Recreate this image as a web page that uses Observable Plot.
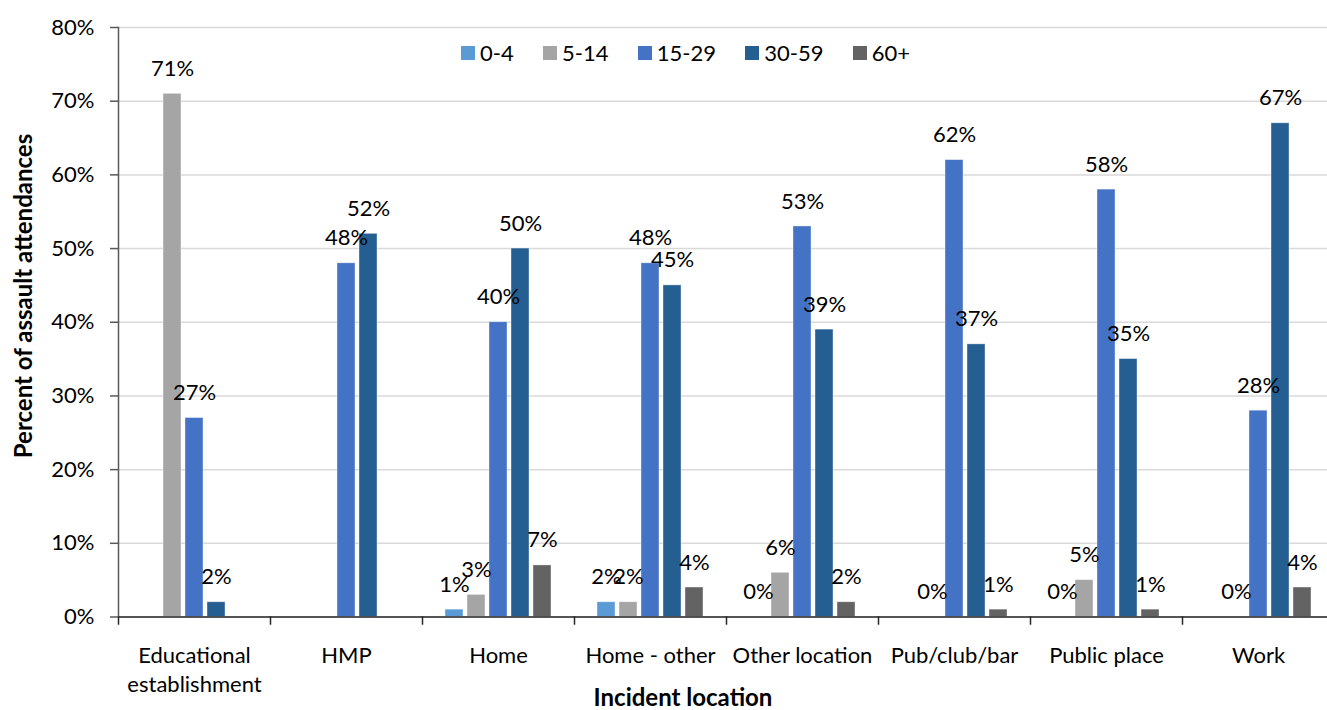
<!DOCTYPE html>
<html>
<head>
<meta charset="utf-8">
<script src="https://cdn.jsdelivr.net/npm/d3@7"></script>
<script src="https://cdn.jsdelivr.net/npm/@observablehq/plot@0.6"></script>
<style>
  html, body { margin: 0; padding: 0; background: #fff; }
  #wrap { position: relative; width: 1327px; height: 710px; font-family: Lato, "Open Sans", sans-serif; color: #000; overflow: hidden; }
  #legend { position: absolute; left: 461px; top: 42px; display: flex; align-items: center; font-size: 22px; line-height: 22px; }
  #legend .item { display: flex; align-items: center; margin-right: 29.3px; }
  #legend .sw { width: 14px; height: 14px; margin-right: 5px; display: inline-block; }
  .ytitle { position: absolute; left: 23px; top: 296px; transform: translate(-50%, -50%) rotate(-90deg); font-weight: bold; font-size: 24px; line-height: 1; white-space: nowrap; }
  .xtitle { position: absolute; left: 683px; top: 697px; transform: translate(-50%, -50%); font-weight: bold; font-size: 24px; line-height: 1; white-space: nowrap; }
</style>
</head>
<body>
<div id="wrap"></div>
<script>
// ---- data ----
const locations = ["Educational establishment", "HMP", "Home", "Home - other", "Other location", "Pub/club/bar", "Public place", "Work"];
const locationLabels = ["Educational\nestablishment", "HMP", "Home", "Home - other", "Other location", "Pub/club/bar", "Public place", "Work"];
const ages = ["0-4", "5-14", "15-29", "30-59", "60+"];
const ageColors = ["#5B9BD5", "#A5A5A5", "#4472C4", "#255E91", "#636363"];
const age0_4   = [null, null, 1, 2, 0, null, 0, null];
const age5_14  = [71, null, 3, 2, 6, 0, 5, 0];
const age15_29 = [27, 48, 40, 48, 53, 62, 58, 28];
const age30_59 = [2, 52, 50, 45, 39, 37, 35, 67];
const age60p   = [null, null, 7, 4, 2, 1, 1, 4];
const yTicks = [0, 10, 20, 30, 40, 50, 60, 70, 80];

const series = [age0_4, age5_14, age15_29, age30_59, age60p];
const data = [];
locations.forEach((loc, i) => {
  ages.forEach((age, j) => {
    const v = series[j][i];
    if (v !== null) data.push({location: loc, age, value: v});
  });
});

const W = 1327, H = 710, mT = 27, mB = 93.5, mL = 117, mR = -7.6;

const chart = Plot.plot({
  width: W,
  height: H,
  marginTop: mT,
  marginBottom: mB,
  marginLeft: mL,
  marginRight: mR,
  style: {fontFamily: "Lato, 'Open Sans', sans-serif", fontSize: "22px", color: "#000", background: "transparent", overflow: "visible"},
  fx: {domain: locations, padding: 0, axis: null},
  x: {domain: ages, paddingInner: 0.204, paddingOuter: 0.91, axis: null},
  y: {domain: [0, 80], axis: null},
  color: {domain: ages, range: ageColors},
  marks: [
    Plot.gridY({ticks: yTicks, stroke: "#d9d9d9", strokeOpacity: 1, strokeWidth: 1.5}),
    Plot.barY(data, {fx: "location", x: "age", y: "value", fill: "age", stroke: "white", strokeOpacity: 0.5, strokeWidth: 0.75}),
    Plot.text(data, {fx: "location", x: "age", y: "value", text: d => d.value + "%", dy: -25, fontSize: 22, fill: "#000"}),
    Plot.ruleY([0], {stroke: "#262626", strokeWidth: 1.5}),
    Plot.frame({anchor: "left", facetAnchor: "left", stroke: "#595959", strokeWidth: 1.5}),
    Plot.frame({anchor: "left", stroke: "#262626", strokeWidth: 1.5, insetTop: H - mT - mB, insetBottom: -7}),
    Plot.axisY({ticks: yTicks, tickSize: 8, tickPadding: 16, tickFormat: d => d + "%", fontSize: 22, stroke: "#595959", strokeWidth: 1.5, fill: "#000", label: null}),
    Plot.axisFx({anchor: "bottom", tickSize: 0, tickPadding: 25, fontSize: 22, lineHeight: 1.32, fill: "#000", label: null,
      tickFormat: d => locationLabels[locations.indexOf(d)]})
  ]
});

const wrap = document.getElementById("wrap");
wrap.appendChild(chart);

const legend = document.createElement("div");
legend.id = "legend";
ages.forEach((a, i) => {
  const item = document.createElement("span");
  item.className = "item";
  const sw = document.createElement("span");
  sw.className = "sw";
  sw.style.background = ageColors[i];
  const t = document.createElement("span");
  t.textContent = a;
  item.appendChild(sw);
  item.appendChild(t);
  legend.appendChild(item);
});
wrap.appendChild(legend);

const yt = document.createElement("div");
yt.className = "ytitle";
yt.textContent = "Percent of assault attendances";
wrap.appendChild(yt);

const xt = document.createElement("div");
xt.className = "xtitle";
xt.textContent = "Incident location";
wrap.appendChild(xt);
</script>
</body>
</html>
